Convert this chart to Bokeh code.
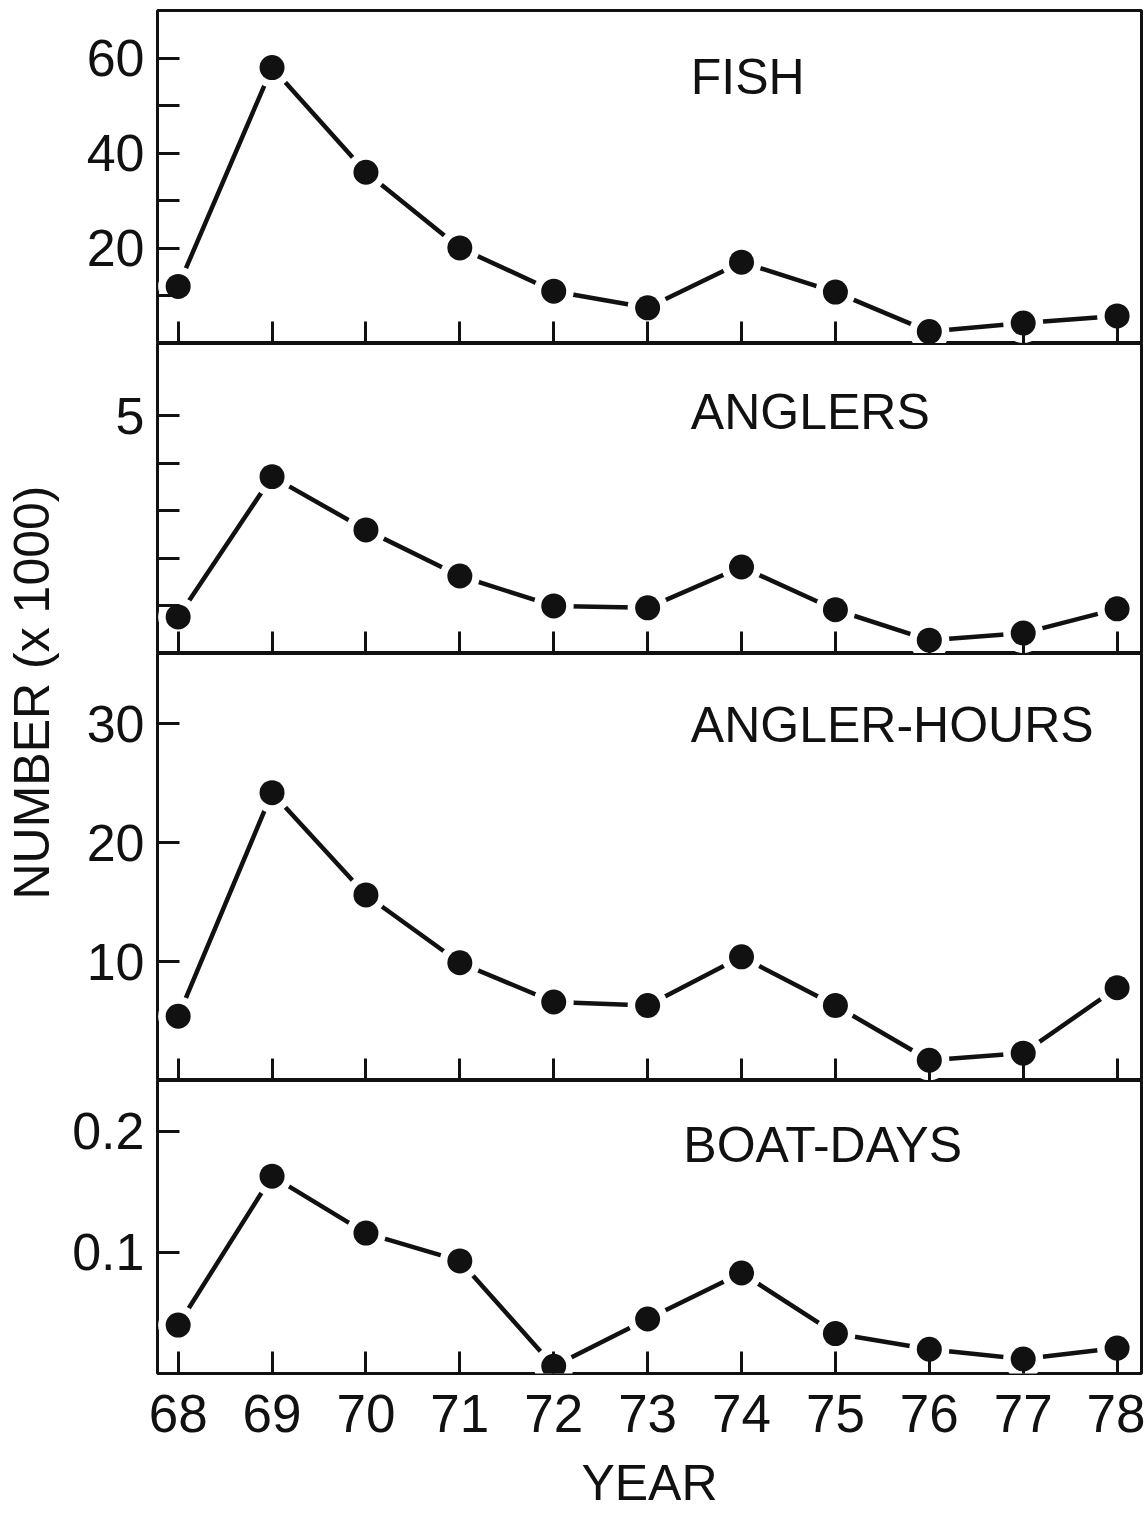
import math
from bokeh.plotting import figure
from bokeh.layouts import column, row
from bokeh.models import FixedTicker, Label
from bokeh.embed import file_html
from bokeh.resources import INLINE

# ---------------- data ----------------
years = [68, 69, 70, 71, 72, 73, 74, 75, 76, 77, 78]
year_labels = ["68", "69", "70", "71", "72", "73", "74", "75", "76", "77", "78"]
fish = [12.0, 58.0, 36.0, 20.1, 11.0, 7.5, 17.1, 10.8, 2.5, 4.3, 5.8]
anglers = [0.77, 3.72, 2.60, 1.63, 1.00, 0.96, 1.82, 0.92, 0.28, 0.43, 0.94]
angler_hours = [5.4, 24.2, 15.6, 9.9, 6.6, 6.3, 10.4, 6.3, 1.7, 2.3, 7.8]
boat_days = [0.040, 0.163, 0.116, 0.093, 0.006, 0.045, 0.083, 0.033, 0.020, 0.012, 0.021]

panel_names = ["FISH", "ANGLERS", "ANGLER-HOURS", "BOAT-DAYS"]
series = [fish, anglers, angler_hours, boat_days]
y_major = [[20, 40, 60], [5], [10, 20, 30], [0.1, 0.2]]
y_minor = [[10, 30, 50], [1, 2, 3, 4], [], []]
y_max = [70, 6.52, 35.9, 0.242]

# ---------------- layout / style ----------------
FONT = "Liberation Sans"
INK = "#111111"
X_RANGE = (67.78, 78.26)
FRAME_W = 984
LEFT_BORDER = 89
RIGHT_BORDER = 4
TITLE_W = 68
heights = [343, 310, 427, 433]
tops = [10, 0, 0, 0]
bottoms = [0, 0, 0, 140]
label_pos = [(73.46, 0.800), (73.46, 0.779), (73.46, 0.832), (73.38, 0.781)]

figs = []
for i in range(4):
    p = figure(width=LEFT_BORDER + FRAME_W + RIGHT_BORDER, height=heights[i],
               x_range=X_RANGE, y_range=(0, y_max[i]),
               toolbar_location=None, output_backend="svg",
               min_border_left=LEFT_BORDER, min_border_right=RIGHT_BORDER,
               min_border_top=tops[i], min_border_bottom=bottoms[i])
    p.background_fill_color = "white"
    p.border_fill_color = "white"
    p.outline_line_color = INK
    p.outline_line_width = 3
    p.xgrid.visible = False
    p.ygrid.visible = False

    # x axis (ticks point inward)
    p.xaxis.axis_line_color = None
    if i < 3:
        p.xaxis.ticker = FixedTicker(ticks=[], minor_ticks=years)
        p.xaxis.minor_tick_in = 22
        p.xaxis.minor_tick_out = 0
        p.xaxis.minor_tick_line_width = 3
        p.xaxis.minor_tick_line_color = INK
    else:
        p.xaxis.ticker = FixedTicker(ticks=years, minor_ticks=[])
        p.xaxis.major_tick_in = 22
        p.xaxis.major_tick_out = 0
        p.xaxis.major_tick_line_width = 3
        p.xaxis.major_tick_line_color = INK
        p.xaxis.major_label_overrides = {y: s for y, s in zip(years, year_labels)}
        p.xaxis.major_label_text_font = FONT
        p.xaxis.major_label_text_font_size = "53px"
        p.xaxis.major_label_text_color = INK
        p.xaxis.major_label_standoff = 21
        p.xaxis.axis_label = "YEAR"
        p.xaxis.axis_label_text_font = FONT
        p.xaxis.axis_label_text_font_size = "50px"
        p.xaxis.axis_label_text_font_style = "normal"
        p.xaxis.axis_label_text_color = INK
        p.xaxis.axis_label_standoff = 20

    # y axis
    p.yaxis.ticker = FixedTicker(ticks=y_major[i], minor_ticks=y_minor[i])
    p.yaxis.major_tick_in = 22
    p.yaxis.major_tick_out = 0
    p.yaxis.minor_tick_in = 22
    p.yaxis.minor_tick_out = 0
    p.yaxis.major_tick_line_width = 3
    p.yaxis.minor_tick_line_width = 3
    p.yaxis.major_tick_line_color = INK
    p.yaxis.minor_tick_line_color = INK
    p.yaxis.axis_line_color = None
    p.yaxis.major_label_text_font = FONT
    p.yaxis.major_label_text_font_size = "52px"
    p.yaxis.major_label_text_color = INK
    p.yaxis.major_label_standoff = 13

    vals = series[i]
    p.line(years, vals, line_color=INK, line_width=4.5)
    # white halo so that the line stops short of each dot
    p.scatter(years, vals, size=40, fill_color="white", line_color=None)
    p.scatter(years, vals, size=25, fill_color=INK, line_color=None)

    lx, ly = label_pos[i]
    p.add_layout(Label(x=lx, y=ly * y_max[i], text=panel_names[i],
                       text_font=FONT, text_font_size="50px",
                       text_color=INK, text_baseline="alphabetic",
                       text_align="left"))
    figs.append(p)

total_h = sum(heights)
tf = figure(width=TITLE_W, height=total_h, x_range=(0, TITLE_W), y_range=(0, total_h),
            toolbar_location=None, output_backend="svg",
            min_border_left=0, min_border_right=0, min_border_top=0, min_border_bottom=0)
tf.axis.visible = False
tf.grid.visible = False
tf.outline_line_color = None
tf.background_fill_color = "white"
tf.border_fill_color = "white"
tf.add_layout(Label(x=31, y=total_h - 692, text="NUMBER (x 1000)", angle=math.pi / 2,
                    text_font=FONT, text_font_size="50px", text_color=INK,
                    text_align="center", text_baseline="middle"))

layout = row(tf, column(*figs, spacing=0), spacing=0)
open("out.html", "w").write(file_html(layout, INLINE))
